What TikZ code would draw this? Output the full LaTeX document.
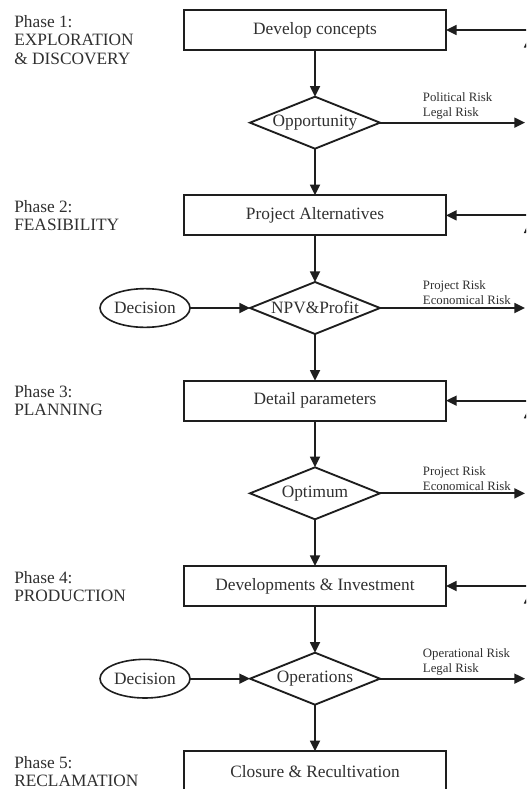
\documentclass[tikz,border=0pt]{standalone}
\usepackage{fontspec}
\setmainfont{Liberation Serif}
\usepackage{tikz}
\usetikzlibrary{arrows.meta,shapes,positioning}
\definecolor{ink}{HTML}{1E1E1E}
\definecolor{txt}{HTML}{303030}

\tikzset{
    stage/.style={draw=ink, line width=1.4pt, rectangle, minimum width=196.5pt, minimum height=30pt, inner sep=0pt, outer sep=0pt, font=\fontsize{13}{15}\selectfont, text=txt},
    check/.style={draw=ink, line width=1.4pt, diamond, aspect=2.5, minimum width=97.5pt, minimum height=39pt, inner sep=0pt, outer sep=0pt, font=\fontsize{13}{15}\selectfont, text=txt},
    decision/.style={draw=ink, line width=1.2pt, ellipse, minimum width=67.5pt, minimum height=29pt, inner sep=0pt, outer sep=0pt, font=\fontsize{13}{15}\selectfont, text=txt},
    phase/.style={anchor=north west, align=left, inner sep=0pt, font=\fontsize{13}{14}\selectfont, text=txt},
    risk/.style={align=left, inner sep=0pt, font=\fontsize{9.6}{11.25}\selectfont, text=txt},
    flow/.style={draw=ink, line width=1.3pt, -{Triangle[length=8pt,width=7.5pt]}}
}

\begin{document}
\begin{tikzpicture}[x=0.75pt, y=-0.75pt, node distance=35pt]
    \useasboundingbox (0,0) rectangle (526,789);
    \clip (0,0) rectangle (526,789);
    \fill[white] (0,0) rectangle (526,789);

    \node[stage] (b1) at (315,30) {Develop concepts};
    \node[check, below=of b1] (d1) {Opportunity};
    \node[stage, below=of d1] (b2) {Project Alternatives};
    \node[check, below=of b2] (d2) {NPV\&Profit};
    \node[stage, below=of d2] (b3) {Detail parameters};
    \node[check, below=of b3] (d3) {Optimum};
    \node[stage, below=of d3] (b4) {Developments \& Investment};
    \node[check, below=of b4] (d4) {Operations};
    \node[stage, below=of d4] (b5) {Closure \& Recultivation};

    \node[decision, left=45pt of d2] (e1) {Decision};
    \node[decision, left=45pt of d4] (e2) {Decision};

    \node[phase] (p1) at (14,15) {Phase 1:\\EXPLORATION\\\& DISCOVERY};
    \node[phase] (p2) at (14,200) {Phase 2:\\FEASIBILITY};
    \node[phase] (p3) at (14,385) {Phase 3:\\PLANNING};
    \node[phase] (p4) at (14,571) {Phase 4:\\PRODUCTION};
    \node[phase] (p5) at (14,756) {Phase 5:\\RECLAMATION};

    \node[risk, above right=2pt and 32pt of d1.east] (r1) {Political Risk\\Legal Risk};
    \node[risk, above right=2pt and 32pt of d2.east] (r2) {Project Risk\\Economical Risk};
    \node[risk, above right=2pt and 32pt of d3.east] (r3) {Project Risk\\Economical Risk};
    \node[risk, above right=2pt and 32pt of d4.east] (r4) {Operational Risk\\Legal Risk};

    \coordinate (edge) at (525,0);
    \coordinate (back) at (560,0);
    \coordinate (up) at (529,0);

    \draw[flow] (b1) -- (d1);
    \draw[flow] (d1) -- (b2);
    \draw[flow] (b2) -- (d2);
    \draw[flow] (d2) -- (b3);
    \draw[flow] (b3) -- (d3);
    \draw[flow] (d3) -- (b4);
    \draw[flow] (b4) -- (d4);
    \draw[flow] (d4) -- (b5);
    \draw[flow] (e1) -- (d2);
    \draw[flow] (e2) -- (d4);

    \draw[flow] (d1.east) -- (d1.east -| edge);
    \draw[flow] (d2.east) -- (d2.east -| edge);
    \draw[flow] (d3.east) -- (d3.east -| edge);
    \draw[flow] (d4.east) -- (d4.east -| edge);

    \draw[flow] (b1.east -| back) -- (b1.east);
    \draw[flow] (b2.east -| back) -- (b2.east);
    \draw[flow] (b3.east -| back) -- (b3.east);
    \draw[flow] (b4.east -| back) -- (b4.east);

    \draw[flow] (b1.east -| up) ++(0,40) -- ++(0,-33);
    \draw[flow] (b2.east -| up) ++(0,40) -- ++(0,-33);
    \draw[flow] (b3.east -| up) ++(0,40) -- ++(0,-33);
    \draw[flow] (b4.east -| up) ++(0,40) -- ++(0,-33);
\end{tikzpicture}
\end{document}
